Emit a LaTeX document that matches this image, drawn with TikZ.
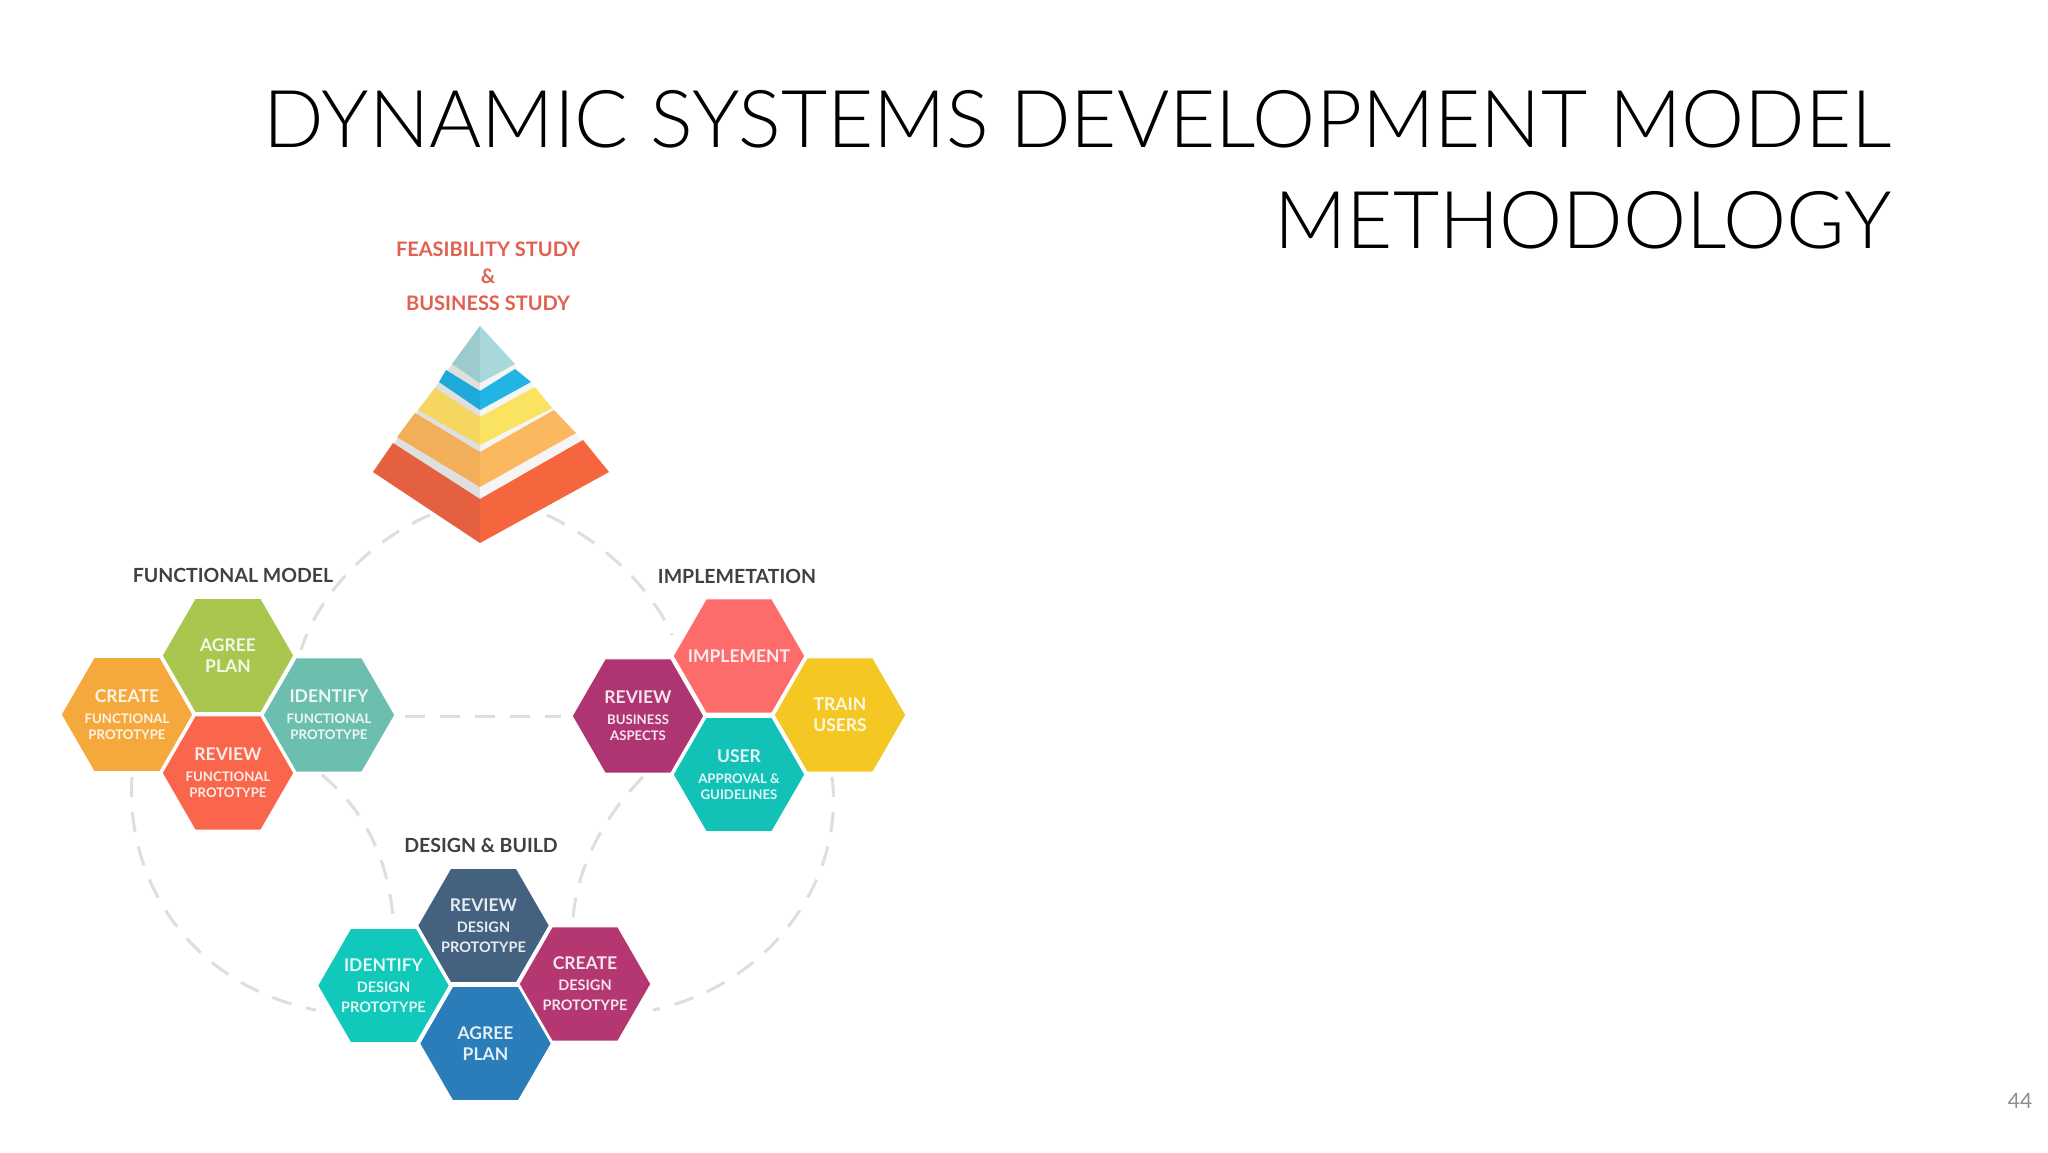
\documentclass[tikz,border=0pt]{standalone}
\usepackage{fontspec}
\setmainfont{Lato}
\newfontfamily\titlefont{Lato Light}
\usetikzlibrary{shapes.geometric}
\definecolor{dashc}{HTML}{DEDEDE}
\definecolor{headc}{HTML}{404040}
\definecolor{redhead}{HTML}{E2604F}
\definecolor{numc}{HTML}{8C8C8C}
\definecolor{tealL}{HTML}{9CCBCE}\definecolor{tealR}{HTML}{A9D8DA}
\definecolor{blueL}{HTML}{1FA9DA}\definecolor{blueR}{HTML}{22B4E4}
\definecolor{yelL}{HTML}{F4D660}\definecolor{yelR}{HTML}{FBE362}
\definecolor{oraL}{HTML}{F2AE58}\definecolor{oraR}{HTML}{FBB85F}
\definecolor{redL}{HTML}{E5603F}\definecolor{redR}{HTML}{F5663F}
\definecolor{hA}{HTML}{A9C64F}\definecolor{hB}{HTML}{F5A83B}\definecolor{hC}{HTML}{6CBFAE}\definecolor{hD}{HTML}{F9664B}
\definecolor{hE}{HTML}{AE3472}\definecolor{hF}{HTML}{FD6B6B}\definecolor{hG}{HTML}{F5C723}\definecolor{hH}{HTML}{12C2B6}
\definecolor{hI}{HTML}{44617F}\definecolor{hJ}{HTML}{10C9BB}\definecolor{hK}{HTML}{B43771}\definecolor{hL}{HTML}{2A7DB8}
\newcommand{\mainf}{\fontsize{17.5}{21}\selectfont\bfseries}
\newcommand{\subf}{\fontsize{13.2}{21}\selectfont\bfseries}
\newcommand{\subg}{\fontsize{14.5}{21}\selectfont\bfseries}
\tikzset{
  hexa/.style={regular polygon,regular polygon sides=6,minimum size=132pt,inner sep=0pt,outer sep=0pt,
    draw=white,line width=1.2pt,fill=#1},
  hexlabel/.style={inner sep=0pt,text=white,text opacity=.88,align=center,font=\fontsize{17.5}{21}\selectfont\bfseries},
  head/.style={font=\fontsize{19.5}{24}\selectfont\bfseries,text=headc,inner sep=0pt},
  link/.style={draw=dashc,line width=3pt,dash pattern=on 20pt off 15pt},
}
\newcommand{\hexn}[4]{\node[hexa=#2] (#1) at (#3) {};\node[hexlabel] (#1-text) at (#1.center) {#4};}
\begin{document}
\begin{tikzpicture}[x=1pt,y=-1pt]
\useasboundingbox (0,0) rectangle (2048,1152);
\fill[white] (0,0) rectangle (2048,1152);

\node[anchor=base east,inner sep=0pt,align=right,font=\titlefont\fontsize{79.8}{101}\selectfont] (title) at (1892,248)
  {DYNAMIC SYSTEMS DEVELOPMENT MODEL\\METHODOLOGY};
\node[text=numc,inner sep=0pt,font=\fontsize{21}{26}\selectfont] (pageno) at (2020,1101) {44};

% connector end points
\coordinate (a1) at (430,515); \coordinate (a2) at (301,650);
\coordinate (b1) at (547,515); \coordinate (b2) at (672,635);
\coordinate (c1) at (322,775); \coordinate (c2) at (393,917);
\coordinate (d1) at (132,777); \coordinate (d2) at (316,1010);
\coordinate (e1) at (405,716); \coordinate (e2) at (561,716);
\coordinate (f1) at (643,777); \coordinate (f2) at (573,918);
\coordinate (g1) at (832,777); \coordinate (g2) at (653,1010);
\draw[link] (a1) .. controls (375,538) and (320,590) .. (a2);
\draw[link] (b1) .. controls (600,540) and (650,585) .. (b2);
\draw[link] (c1) .. controls (365,810) and (388,860) .. (c2);
\draw[link] (d1) .. controls (125,880) and (190,985) .. (d2);
\draw[link] (e1) -- (e2);
\draw[link] (f1) .. controls (610,810) and (578,860) .. (f2);
\draw[link] (g1) .. controls (845,880) and (770,985) .. (g2);

% pyramid
\fill[gray!25] (480,326) -- (373,472) -- (480,543) -- cycle;
\fill[gray!8] (480,326) -- (609,472) -- (480,543) -- cycle;
\fill[tealL] (480,326) -- (452,364) -- (480,383) -- cycle;
\fill[tealR] (480,326) -- (515,364) -- (480,383) -- cycle;
\fill[blueL] (446,370) -- (439,382) -- (480,410) -- (480,391) -- cycle;
\fill[blueR] (515,369) -- (531,382) -- (480,410) -- (480,391) -- cycle;
\fill[yelL] (435,388) -- (418,410) -- (480,445) -- (480,417) -- cycle;
\fill[yelR] (535,387) -- (552,408) -- (480,445) -- (480,417) -- cycle;
\fill[oraL] (415,413) -- (397,437) -- (480,487) -- (480,452) -- cycle;
\fill[oraR] (554,410) -- (576,433) -- (480,487) -- (480,452) -- cycle;
\fill[redL] (393,443) -- (373,472) -- (480,543) -- (480,499) -- cycle;
\fill[redR] (583,440) -- (609,472) -- (480,543) -- (480,499) -- cycle;

% headings
\node[align=center,inner sep=0pt,text=redhead,font=\fontsize{20}{27}\selectfont\bfseries] (feas) at (488,276)
  {FEASIBILITY STUDY\\\&\\BUSINESS STUDY};
\node[head] (hfun) at (233,575) {FUNCTIONAL MODEL};
\node[head] (himp) at (737,576) {IMPLEMETATION};
\node[head] (hdes) at (481,845) {DESIGN \& BUILD};

% functional model
\hexn{fagree}{hA}{228,655.5}{\mainf AGREE\\\mainf PLAN}
\hexn{fcreate}{hB}{127,714.5}{\mainf CREATE\\\subf FUNCTIONAL\\[-5pt]\subf PROTOTYPE}
\hexn{fident}{hC}{329,715}{\mainf IDENTIFY\\\subf FUNCTIONAL\\[-5pt]\subf PROTOTYPE}
\hexn{freview}{hD}{228,773}{\mainf REVIEW\\\subf FUNCTIONAL\\[-5pt]\subf PROTOTYPE}

% implementation
\hexn{ireview}{hE}{638,716}{\mainf REVIEW\\\subf BUSINESS\\[-5pt]\subf ASPECTS}
\hexn{iimpl}{hF}{739,656}{\mainf IMPLEMENT}
\hexn{itrain}{hG}{840,715}{\mainf TRAIN\\\mainf USERS}
\hexn{iuser}{hH}{739,774.5}{\mainf USER\\\subf APPROVAL \&\\[-5pt]\subf GUIDELINES}

% design and build
\hexn{dreview}{hI}{483.5,925.5}{\mainf REVIEW\\\subg DESIGN\\[-1pt]\subg PROTOTYPE}
\hexn{dident}{hJ}{383.5,985.5}{\mainf IDENTIFY\\\subg DESIGN\\[-1pt]\subg PROTOTYPE}
\hexn{dcreate}{hK}{585,984}{\mainf CREATE\\\subg DESIGN\\[-1pt]\subg PROTOTYPE}
\hexn{dagree}{hL}{485.5,1043.5}{\mainf AGREE\\\mainf PLAN}
\end{tikzpicture}
\end{document}
